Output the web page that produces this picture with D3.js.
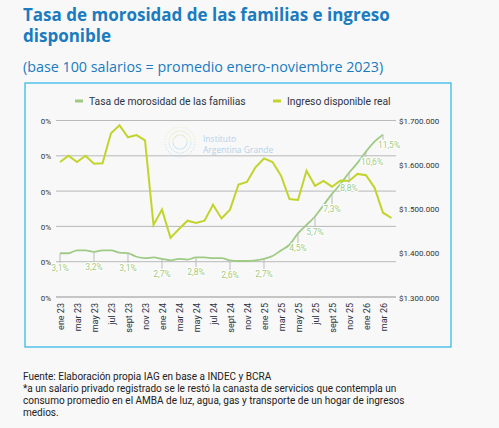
<!DOCTYPE html>
<html>
<head>
<meta charset="utf-8">
<script src="https://cdn.jsdelivr.net/npm/d3@7"></script>
<style>
  body { margin: 0; background: #f8f8f8; font-family: "Open Sans", sans-serif; }
  svg { display: block; }
</style>
</head>
<body>
<svg id="chart" width="499" height="428"></svg>
<script>
// months ene 23 .. abr 26
const months = ["ene 23","feb 23","mar 23","abr 23","may 23","jun 23","jul 23","ago 23","sept 23","oct 23","nov 23","dic 23",
  "ene 24","feb 24","mar 24","abr 24","may 24","jun 24","jul 24","ago 24","sept 24","oct 24","nov 24","dic 24",
  "ene 25","feb 25","mar 25","abr 25","may 25","jun 25","jul 25","ago 25","sept 25","oct 25","nov 25","dic 25",
  "ene 26","feb 26","mar 26","abr 26"];

// ingreso disponible real (pesos)
const ingreso = [1606000,1620000,1606000,1620000,1602000,1603000,1671000,1689000,1662000,1667000,1655000,1463000,
  1498000,1434000,1454000,1473000,1468000,1473000,1509000,1478000,1498000,1555000,1561000,1594000,
  1614000,1606000,1575000,1522000,1520000,1586000,1552000,1563000,1550000,1564000,1563000,1579000,
  1576000,1548000,1491000,1479000];

// tasa de morosidad (%), hasta mar 26
const morosidad = [3.1,3.1,3.3,3.3,3.2,3.3,3.3,3.15,3.1,2.85,2.75,2.8,
  2.7,2.6,2.7,2.65,2.8,2.8,2.75,2.75,2.6,2.55,2.55,2.6,
  2.7,2.9,3.3,3.7,4.5,5.1,5.7,6.5,7.3,8.0,8.8,9.5,
  10.3,11.0,11.5];

const labelIdx = [0,4,8,12,16,20,24,28,30,32,34,36,38];
const labelText = ["3,1%","3,2%","3,1%","2,7%","2,8%","2,6%","2,7%","4,5%","5,7%","7,3%","8,8%","10,6%","11,5%"];

const leftTicks = [0,2.5,5,7.5,10,12.5];
const rightTicks = [1300000,1400000,1500000,1600000,1700000];

const svg = d3.select("#chart");

svg.append("text").attr("x", 23).attr("y", 21).attr("fill", "#1a7bbf")
  .attr("font-size", 17).attr("font-weight", 700).text("Tasa de morosidad de las familias e ingreso");
svg.append("text").attr("x", 23).attr("y", 42).attr("fill", "#1a7bbf")
  .attr("font-size", 17).attr("font-weight", 700).text("disponible");
svg.append("text").attr("x", 23).attr("y", 72).attr("fill", "#1a7bbf")
  .attr("font-size", 14.3).text("(base 100 salarios = promedio enero-noviembre 2023)");

svg.append("rect").attr("x", 25).attr("y", 83).attr("width", 426).attr("height", 264)
  .attr("fill", "#f8f8f8").attr("stroke", "#29b6e8").attr("stroke-width", 1.2);

const x = d3.scaleLinear().domain([0, months.length - 1]).range([60, 391.5]);
const yL = d3.scaleLinear().domain([0, 12.5]).range([297, 120.5]);
const yR = d3.scaleLinear().domain([1300000, 1700000]).range([297, 120.5]);

// grid (left axis)
svg.append("g").selectAll("line").data(leftTicks).join("line")
  .attr("x1", 56).attr("x2", 396).attr("y1", d => yL(d)).attr("y2", d => yL(d))
  .attr("stroke", d => d === 0 ? "#b5b5b5" : "#a8a8a8").attr("stroke-width", d => d === 0 ? 1.5 : 0.8);

svg.append("g").selectAll("text").data(leftTicks).join("text")
  .attr("x", 51).attr("y", d => yL(d) + 3.5).attr("text-anchor", "end")
  .attr("font-size", 8).attr("font-family", "Roboto, sans-serif").attr("fill", "#333").text("0%");

svg.append("g").selectAll("text").data(rightTicks).join("text")
  .attr("x", 399).attr("y", d => yR(d) + 3.5)
  .attr("font-size", 8).attr("font-family", "Roboto, sans-serif").attr("fill", "#333")
  .text(d => "$" + d3.format(",")(d).replace(/,/g, "."));

// x labels every 2 months
svg.append("g").selectAll("text").data(months.filter((m, i) => i % 2 === 0 && i < 39)).join("text")
  .attr("transform", (d, k) => `translate(${x(k * 2) + 3.5},${303}) rotate(-90)`)
  .attr("text-anchor", "end").attr("font-size", 9).attr("font-family", "Roboto, sans-serif")
  .attr("fill", "#2b3445").text(d => d);

// watermark
const wm = svg.append("g").attr("opacity", 0.55);
for (let k = 0; k < 36; k++) {
  const a = k / 36 * 2 * Math.PI;
  for (let r = 7; r <= 15; r += 4) {
    wm.append("circle").attr("cx", 180 + Math.cos(a) * r).attr("cy", 142 + Math.sin(a) * r)
      .attr("r", 0.6).attr("fill", k < 18 ? "#9fd0e8" : "#cfe3a0");
  }
}
wm.append("text").attr("x", 203).attr("y", 142).attr("font-size", 8.5).attr("fill", "#7bb4de").text("Instituto");
wm.append("text").attr("x", 203).attr("y", 153).attr("font-size", 8.5).attr("fill", "#7bb4de").text("Argentina Grande");

// legend
const lg = svg.append("g").attr("font-size", 10.3).attr("font-family", "Roboto, sans-serif").attr("fill", "#2b3445");
lg.append("line").attr("x1", 75).attr("x2", 83).attr("y1", 101).attr("y2", 101).attr("stroke", "#9ecb84").attr("stroke-width", 3);
lg.append("text").attr("x", 89).attr("y", 105).text("Tasa de morosidad de las familias");
lg.append("line").attr("x1", 273).attr("x2", 281).attr("y1", 101).attr("y2", 101).attr("stroke", "#c2d42c").attr("stroke-width", 3);
lg.append("text").attr("x", 287).attr("y", 105).text("Ingreso disponible real");

// morosidad line
svg.append("path").datum(morosidad)
  .attr("d", d3.line().x((d, i) => x(i)).y(d => yL(d)).curve(d3.curveMonotoneX))
  .attr("fill", "none").attr("stroke", "#9ecb84").attr("stroke-width", 1.8);

// ingreso line
svg.append("path").datum(ingreso)
  .attr("d", d3.line().x((d, i) => x(i)).y(d => yR(d)))
  .attr("fill", "none").attr("stroke", "#c2d42c").attr("stroke-width", 2);

// data labels
const lab = svg.append("g");
labelIdx.forEach((idx, k) => {
  const px = x(idx), py = yL(morosidad[idx]);
  const ly = idx >= 36 ? py + 13 : py + 18;
  lab.append("line").attr("x1", px).attr("x2", px).attr("y1", py).attr("y2", ly - 8)
    .attr("stroke", "#bbb").attr("stroke-width", 1);
  lab.append("text").attr("x", idx >= 36 ? px + 6 : px).attr("y", ly).attr("text-anchor", "middle")
    .attr("font-size", 8.5).attr("font-family", "Roboto, sans-serif")
    .attr("fill", "#9ecb84").attr("stroke", "#fff").attr("stroke-width", 2).attr("paint-order", "stroke")
    .text(labelText[k]);
});

// footer
const ft = ["Fuente: Elaboración propia IAG en base a INDEC y BCRA",
  "*a un salario privado registrado se le restó la canasta de servicios que contempla un",
  "consumo promedio en el AMBA de luz, agua, gas y transporte de un hogar de ingresos",
  "medios."];
svg.append("g").selectAll("text").data(ft).join("text")
  .attr("x", 23).attr("y", (d, i) => 380 + i * 12).attr("font-size", 10)
  .attr("font-family", "Roboto, sans-serif").attr("fill", "#222").text(d => d);
</script>
</body>
</html>
